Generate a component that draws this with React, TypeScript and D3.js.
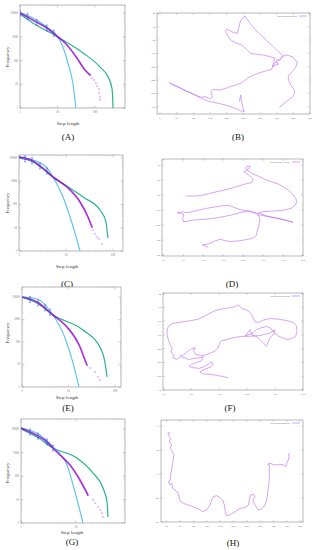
import React from 'react';
import * as d3 from 'd3';

type Pt = [number, number];

// ---- step length distributions (step length, frequency) ----
const purpleA: Pt[] = [[1, 10000], [2.2, 5070], [5.2, 2330], [10.3, 975], [17.9, 450], [33, 127], [54, 40], [74, 24.5]];
const tailA: Pt[] = [[83, 18.3], [94, 15.1], [106, 11.3], [113, 8.4], [128, 6.3], [128, 4.3], [136, 2.9], [136, 2.2]];
const greenA: Pt[] = [[1, 9000], [2.2, 3800], [10.2, 980], [48, 209], [135, 54], [224, 20], [282, 7], [296, 2.6], [302, 1]];
const cyanA: Pt[] = [[1, 10500], [2.2, 6170], [5.2, 2570], [10.2, 980], [14, 370], [19, 78], [25.7, 11], [31, 1]];
const blueA: Pt[] = [[1, 10000], [1.6, 7000], [2.8, 4000], [5.2, 2330], [8, 1400]];

const purpleC: Pt[] = [[1, 10800], [1.99, 7300], [3.57, 2990], [5.29, 1500], [10.5, 558], [19.9, 127], [29.4, 28.8], [35.7, 10.7]];
const tailC: Pt[] = [[37.5, 8], [41.4, 5.4], [45.7, 4], [50.4, 3.3], [58.3, 2]];
const greenC: Pt[] = [[1, 9800], [1.99, 6600], [5.29, 1500], [23, 208], [52.8, 57.5], [71, 17.6], [74.5, 8], [78.3, 3.6]];
const cyanC: Pt[] = [[1, 10800], [1.99, 8050], [3.94, 3650], [5.29, 1500], [8.63, 208], [13.4, 15.9], [19.9, 1]];
const blueC: Pt[] = [[1.34, 9000], [1.89, 7500], [2.8, 4500], [3.94, 2700]];

const purpleE: Pt[] = [[1, 10000], [2.1, 6000], [4.64, 1585], [9.29, 464], [17.7, 60], [22.6, 15.8], [25, 9.5]];
const tailE: Pt[] = [[29, 7], [37.2, 4.6], [43, 2.8], [47.5, 2]];
const greenE: Pt[] = [[1, 9600], [2.1, 5400], [4.64, 1585], [20.5, 341], [47.5, 60], [61, 11.7], [67.3, 2.8]];
const cyanE: Pt[] = [[1, 10200], [2.1, 8150], [4.64, 1585], [8.41, 151], [12.5, 11.7], [16.8, 1]];
const blueE: Pt[] = [[1.49, 7800], [2.21, 5500], [3.13, 3300], [4.0, 2100]];

const purpleG: Pt[] = [[1, 11000], [1.46, 7450], [2.04, 5040], [2.97, 2800], [3.82, 1550], [5.12, 783], [7.78, 294], [11.8, 67.6], [16.5, 15.5]];
const tailG: Pt[] = [[20.4, 9.5], [22.5, 7], [25.1, 4.8], [27.5, 3.6], [29.7, 2.7], [31, 1.8]];
const greenG: Pt[] = [[1, 10000], [1.95, 4570], [3.82, 1550], [10.4, 583], [20.4, 134], [31, 30.8], [36.6, 7.8], [38.2, 1.8]];
const cyanG: Pt[] = [[1, 11000], [2.21, 5560], [3.82, 1710], [6.86, 294], [9.59, 20.8], [13.4, 1]];
const blueG: Pt[] = [[1.46, 7450], [2.04, 5040], [2.97, 2800], [3.82, 1550]];

const freqTicks = [1, 10, 100, 1000, 10000];
const stepTicks = [1, 10, 100];
const stepTicksG = [1, 10];

// ---- trajectories (x, y) ----
const trajB: Pt[] = [
  [358, 322], [372, 310], [385, 300], [398, 290], [404, 280], [402, 268], [394, 258], [388, 245], [384, 232], [390, 222],
  [400, 212], [408, 200], [412, 185], [405, 180], [400, 172], [390, 168], [378, 165], [370, 168], [365, 175], [358, 182],
  [352, 178], [348, 186], [356, 192], [345, 196], [338, 200], [344, 190], [352, 184], [360, 176], [368, 166], [355, 155],
  [340, 140], [320, 122], [300, 103], [285, 88], [270, 70], [260, 55], [255, 48], [246, 55], [240, 68], [236, 85],
  [232, 100], [220, 97], [210, 92], [200, 88], [196, 92], [202, 105], [210, 118], [225, 128], [245, 135], [262, 150],
  [272, 160], [290, 163], [310, 165], [330, 170], [345, 175], [340, 190], [335, 208], [320, 212], [300, 218], [280, 225],
  [262, 235], [245, 248], [228, 255], [210, 260], [195, 266], [178, 270], [160, 268], [152, 275], [158, 290], [150, 296],
  [135, 290], [120, 292], [105, 285], [90, 278], [70, 268], [50, 258], [35, 252], [28, 248], [40, 256], [55, 262],
  [75, 272], [95, 280], [110, 287], [125, 295], [140, 302], [155, 306], [175, 310], [200, 316], [225, 325], [245, 333],
  [252, 335], [248, 318], [244, 300], [242, 285], [238, 305],
];
const trajD: Pt[] = [
  [78, 168], [100, 168], [122, 167], [150, 160], [180, 153], [210, 146], [240, 137], [262, 130], [275, 128], [280, 118],
  [270, 108], [260, 100], [252, 95], [265, 88], [272, 80], [262, 78], [258, 85], [275, 100], [292, 107], [305, 113],
  [320, 120], [338, 126], [355, 132], [370, 140], [385, 150], [398, 162], [408, 175], [412, 185], [406, 196], [394, 205],
  [375, 210], [355, 212], [330, 214], [310, 215], [295, 218], [320, 228], [350, 235], [380, 241], [400, 247], [370, 238],
  [340, 232], [300, 225], [270, 213], [245, 210], [225, 203], [210, 197], [195, 196], [170, 200], [140, 205], [110, 212],
  [85, 218], [65, 216], [52, 218], [60, 220], [72, 224], [68, 235], [72, 246], [100, 240], [130, 238], [160, 235],
  [190, 230], [215, 225], [240, 218], [262, 214], [280, 216], [295, 222], [300, 238], [298, 255], [293, 270], [290, 285],
  [282, 293], [265, 298], [240, 302], [210, 305], [180, 298], [165, 303], [145, 312], [128, 315], [145, 322],
];
const trajF: Pt[] = [
  [205, 297], [190, 293], [170, 289], [148, 286], [128, 285], [120, 279], [132, 272], [150, 265], [160, 256], [155, 248],
  [145, 255], [132, 263], [118, 268], [100, 266], [88, 262], [95, 255], [110, 250], [125, 245], [130, 232], [118, 236],
  [100, 238], [86, 241], [75, 236], [62, 232], [52, 240], [45, 238], [38, 234], [42, 226], [33, 218], [36, 208],
  [30, 195], [25, 180], [21, 165], [22, 150], [25, 140], [36, 131], [55, 128], [75, 125], [95, 122], [115, 118],
  [135, 108], [150, 100], [165, 92], [180, 88], [196, 85], [212, 83], [226, 80], [233, 75], [241, 79], [246, 86],
  [259, 89], [269, 96], [276, 104], [281, 116], [287, 126], [297, 128], [312, 120], [332, 116], [356, 118], [380, 122],
  [400, 128], [410, 138], [412, 155], [408, 170], [398, 176], [384, 180], [374, 177], [356, 170], [342, 158], [332, 145],
  [320, 140], [302, 145], [290, 150], [280, 160], [266, 165], [256, 170], [263, 160], [271, 150], [276, 166], [291, 171],
  [302, 181], [312, 192], [320, 201], [326, 186], [331, 174], [341, 165], [346, 150], [330, 160], [300, 168], [270, 170],
  [250, 170], [235, 172], [218, 175], [202, 180], [186, 183], [179, 191], [175, 205], [165, 215], [150, 222], [135, 228],
  [120, 228], [106, 225], [101, 215], [106, 205], [95, 208], [85, 215], [76, 222], [70, 228], [60, 228],
];
const trajH: Pt[] = [
  [22, 55], [28, 52], [26, 62], [32, 70], [28, 80], [35, 90], [30, 100], [36, 108], [42, 120], [40, 130],
  [38, 145], [35, 160], [33, 175], [30, 195], [25, 200], [30, 210], [35, 205], [38, 220], [45, 225], [50, 230],
  [55, 235], [60, 258], [70, 265], [85, 270], [100, 275], [115, 282], [128, 290], [140, 285], [150, 270], [155, 255],
  [160, 245], [170, 242], [180, 248], [188, 255], [193, 270], [196, 290], [200, 302], [210, 300], [225, 290], [240, 280],
  [255, 278], [265, 270], [268, 255], [272, 240], [280, 238], [285, 245], [278, 255], [285, 270], [295, 285], [305, 282],
  [315, 270], [320, 255], [322, 240], [325, 220], [327, 200], [328, 180], [328, 160], [328, 150], [323, 148], [330, 145],
  [345, 150], [360, 148], [372, 150], [378, 155], [380, 145], [385, 135], [387, 125], [385, 118], [390, 115],
];

const xTicksB = [0, 50, 100, 150, 200, 250, 300, 350, 400, 450];
const yTicksB = [40, 80, 120, 160, 200, 240, 280, 320];
const xTicksD = [10, 70, 130, 190, 250, 310, 370, 430];
const yTicksD = [75, 120, 165, 210, 255, 300, 345];
const xTicksF = [10, 94, 178, 262, 346, 430];
const yTicksF = [40, 82, 124, 166, 208, 250, 292, 334];
const xTicksH = [20, 60, 100, 140, 180, 220, 260, 300, 340, 380, 420];
const yTicksH = [33, 105, 177, 249, 321];

const legendNames = ['pattern 4th 479.dat', 'pattern 4th 372.dat', 'pattern 4th 518.dat', 'pattern 4th 540.dat'];

const FONT = '"Liberation Serif", "DejaVu Serif", serif';
const PURPLE = '#9400d3';
const GREEN = '#2ab28f';
const CYAN = '#62c6e8';
const BLUE = '#3a5fd6';
const TRAJ = '#bb66f0';

type Box = { x0: number; x1: number; y0: number; y1: number };

const LogPanel = ({ id, box, xMaxExp, yMaxExp, xTicks, purple, tail, green, cyan, blue, letter, letterX, letterY, xlabX, xlabY, ylabY }: any) => {
  const x = d3.scaleLog().domain([1, 10 ** xMaxExp]).range([box.x0, box.x1]);
  const y = d3.scaleLog().domain([1, 10 ** yMaxExp]).range([box.y1, box.y0]);
  const line = d3.line<Pt>().x(d => x(d[0])).y(d => y(d[1])).curve(d3.curveMonotoneX);

  const minor = (maxExp: number) => {
    const out: number[] = [];
    for (let k = 0; k <= Math.floor(maxExp); k++) {
      for (let m = 2; m <= 9; m++) {
        const v = m * 10 ** k;
        if (Math.log10(v) < maxExp) out.push(v);
      }
    }
    return out;
  };

  return (
    <g>
      <defs>
        <clipPath id={id}>
          <rect x={box.x0} y={box.y0} width={box.x1 - box.x0} height={box.y1 - box.y0} />
        </clipPath>
      </defs>
      <rect x={box.x0} y={box.y0} width={box.x1 - box.x0} height={box.y1 - box.y0} fill="white" stroke="#8a8a8a" strokeWidth={0.6} />
      {xTicks.map((t: number) => (
        <g key={'xt' + t}>
          <line x1={x(t)} x2={x(t)} y1={box.y1} y2={box.y1 - 2.5} stroke="#8a8a8a" strokeWidth={0.4} />
          <line x1={x(t)} x2={x(t)} y1={box.y0} y2={box.y0 + 2.5} stroke="#8a8a8a" strokeWidth={0.4} />
          <text x={x(t)} y={box.y1 + 5} fontSize={3} textAnchor="middle" fill="#777" fontFamily={FONT}>{t}</text>
        </g>
      ))}
      {minor(xMaxExp).map(t => (
        <g key={'xm' + t}>
          <line x1={x(t)} x2={x(t)} y1={box.y1} y2={box.y1 - 1.2} stroke="#a0a0a0" strokeWidth={0.3} />
          <line x1={x(t)} x2={x(t)} y1={box.y0} y2={box.y0 + 1.2} stroke="#a0a0a0" strokeWidth={0.3} />
        </g>
      ))}
      {freqTicks.map(t => (
        <g key={'yt' + t}>
          <line x1={box.x0} x2={box.x0 + 2.5} y1={y(t)} y2={y(t)} stroke="#8a8a8a" strokeWidth={0.4} />
          <line x1={box.x1} x2={box.x1 - 2.5} y1={y(t)} y2={y(t)} stroke="#8a8a8a" strokeWidth={0.4} />
          <text x={box.x0 - 2} y={y(t) + 1} fontSize={3} textAnchor="end" fill="#777" fontFamily={FONT}>{t}</text>
        </g>
      ))}
      {minor(yMaxExp).map(t => (
        <g key={'ym' + t}>
          <line x1={box.x0} x2={box.x0 + 1.2} y1={y(t)} y2={y(t)} stroke="#a0a0a0" strokeWidth={0.3} />
          <line x1={box.x1} x2={box.x1 - 1.2} y1={y(t)} y2={y(t)} stroke="#a0a0a0" strokeWidth={0.3} />
        </g>
      ))}
      <g clipPath={`url(#${id})`}>
        <path d={line(green) || ''} fill="none" stroke={GREEN} strokeWidth={1.2} />
        <path d={line(cyan) || ''} fill="none" stroke={CYAN} strokeWidth={1.2} />
        <path d={line(purple) || ''} fill="none" stroke={PURPLE} strokeWidth={1.7} strokeLinecap="round" opacity={0.8} />
        {tail.map((d: Pt, i: number) => (
          <g key={'tl' + i} stroke={PURPLE} strokeWidth={0.45} opacity={0.5}>
            <line x1={x(d[0]) - 1.2} x2={x(d[0]) + 1.2} y1={y(d[1])} y2={y(d[1])} />
            <line x1={x(d[0])} x2={x(d[0])} y1={y(d[1]) - 1.2} y2={y(d[1]) + 1.2} />
          </g>
        ))}
        {blue.map((d: Pt, i: number) => (
          <g key={'bl' + i} stroke={BLUE} strokeWidth={0.7} opacity={0.9}>
            <line x1={x(d[0])} x2={x(d[0])} y1={y(d[1]) - 3} y2={y(d[1]) + 3} />
            <line x1={x(d[0]) - 0.8} x2={x(d[0]) + 0.8} y1={y(d[1]) - 3} y2={y(d[1]) - 3} />
            <line x1={x(d[0]) - 0.8} x2={x(d[0]) + 0.8} y1={y(d[1]) + 3} y2={y(d[1]) + 3} />
          </g>
        ))}
      </g>
      <text x={xlabX} y={xlabY} fontSize={5} textAnchor="middle" fill="#333" fontFamily={FONT}>Step length</text>
      <text transform={`translate(8.5,${ylabY}) rotate(-90)`} fontSize={5} textAnchor="middle" fill="#333" fontFamily={FONT}>Frequency</text>
      <text x={letterX} y={letterY} fontSize={9} textAnchor="middle" fill="#111" fontFamily={FONT}>{letter}</text>
    </g>
  );
};

const TrajPanel = ({ box, xDom, yDom, xTicks, yTicks, traj, legend, letter, letterX, letterY }: any) => {
  const b: Box = box;
  const x = d3.scaleLinear().domain(xDom).range([b.x0, b.x1]);
  const y = d3.scaleLinear().domain(yDom).range([b.y0, b.y1]);
  const line = d3.line<Pt>().x(d => x(d[0])).y(d => y(d[1]));
  const legY = b.y0 + 3;
  return (
    <g>
      <rect x={b.x0} y={b.y0} width={b.x1 - b.x0} height={b.y1 - b.y0} fill="white" stroke="#8a8a8a" strokeWidth={0.6} />
      {xTicks.map((t: number) => (
        <g key={'xt' + t}>
          <line x1={x(t)} x2={x(t)} y1={b.y1} y2={b.y1 - 1.8} stroke="#8a8a8a" strokeWidth={0.4} />
          <line x1={x(t)} x2={x(t)} y1={b.y0} y2={b.y0 + 1.8} stroke="#8a8a8a" strokeWidth={0.4} />
          <text x={x(t)} y={b.y1 + 5} fontSize={2.8} textAnchor="middle" fill="#777" fontFamily={FONT}>{t}</text>
        </g>
      ))}
      {yTicks.map((t: number) => (
        <g key={'yt' + t}>
          <line x1={b.x0} x2={b.x0 + 1.8} y1={y(t)} y2={y(t)} stroke="#8a8a8a" strokeWidth={0.4} />
          <line x1={b.x1} x2={b.x1 - 1.8} y1={y(t)} y2={y(t)} stroke="#8a8a8a" strokeWidth={0.4} />
          <text x={b.x0 - 1.5} y={y(t) + 1} fontSize={2.8} textAnchor="end" fill="#777" fontFamily={FONT}>{t}</text>
        </g>
      ))}
      <path d={line(traj) || ''} fill="none" stroke={TRAJ} strokeWidth={0.6} strokeLinejoin="round" />
      <text x={b.x1 - 13} y={legY + 1} fontSize={2.6} textAnchor="end" fill="#666" fontFamily={FONT}>{legend}</text>
      <line x1={b.x1 - 11} x2={b.x1 - 3} y1={legY} y2={legY} stroke={TRAJ} strokeWidth={0.6} />
      <text x={letterX} y={letterY} fontSize={9} textAnchor="middle" fill="#111" fontFamily={FONT}>{letter}</text>
    </g>
  );
};

export default function App() {
  return (
    <div style={{ position: 'absolute', left: 0, top: 0, background: 'white' }}>
      <svg width={315} height={550} style={{ display: 'block' }}>
        <rect x={0} y={0} width={315} height={550} fill="white" />
        <LogPanel id="clipA" box={{ x0: 20, x1: 125, y0: 5, y1: 108 }} xMaxExp={2.8} yMaxExp={4.337} xTicks={stepTicks}
          purple={purpleA} tail={tailA} green={greenA} cyan={cyanA} blue={blueA}
          letter="(A)" letterX={68} letterY={140} xlabX={68} xlabY={125} ylabY={57} />
        <TrajPanel box={{ x0: 157, x1: 310, y0: 13, y1: 114 }} xDom={[-9, 450]} yDom={[39, 342]}
          xTicks={xTicksB} yTicks={yTicksB} traj={trajB} legend={legendNames[0]}
          letter="(B)" letterX={238} letterY={140} />

        <LogPanel id="clipC" box={{ x0: 19, x1: 123, y0: 155, y1: 251 }} xMaxExp={2.213} yMaxExp={4.12} xTicks={stepTicks}
          purple={purpleC} tail={tailC} green={greenC} cyan={cyanC} blue={blueC}
          letter="(C)" letterX={67} letterY={287} xlabX={67} xlabY={268} ylabY={203} />
        <TrajPanel box={{ x0: 162, x1: 303, y0: 159, y1: 256 }} xDom={[6, 430]} yDom={[57, 348]}
          xTicks={xTicksD} yTicks={yTicksD} traj={trajD} legend={legendNames[1]}
          letter="(D)" letterX={232} letterY={287} />

        <LogPanel id="clipE" box={{ x0: 22, x1: 121, y0: 287, y1: 387 }} xMaxExp={2.129} yMaxExp={4.444} xTicks={stepTicks}
          purple={purpleE} tail={tailE} green={greenE} cyan={cyanE} blue={blueE}
          letter="(E)" letterX={68} letterY={411} xlabX={67} xlabY={399} ylabY={333} />
        <TrajPanel box={{ x0: 163, x1: 303, y0: 293, y1: 390 }} xDom={[9, 430]} yDom={[38, 334]}
          xTicks={xTicksF} yTicks={yTicksF} traj={trajF} legend={legendNames[2]}
          letter="(F)" letterX={230} letterY={411} />

        <LogPanel id="clipG" box={{ x0: 21, x1: 125, y0: 419, y1: 523 }} xMaxExp={1.891} yMaxExp={4.426} xTicks={stepTicksG}
          purple={purpleG} tail={tailG} green={greenG} cyan={cyanG} blue={blueG}
          letter="(G)" letterX={72} letterY={545} xlabX={72} xlabY={534} ylabY={473} />
        <TrajPanel box={{ x0: 161, x1: 303, y0: 420, y1: 522 }} xDom={[3, 429]} yDom={[15, 321]}
          xTicks={xTicksH} yTicks={yTicksH} traj={trajH} legend={legendNames[3]}
          letter="(H)" letterX={233} letterY={546} />
      </svg>
    </div>
  );
}
